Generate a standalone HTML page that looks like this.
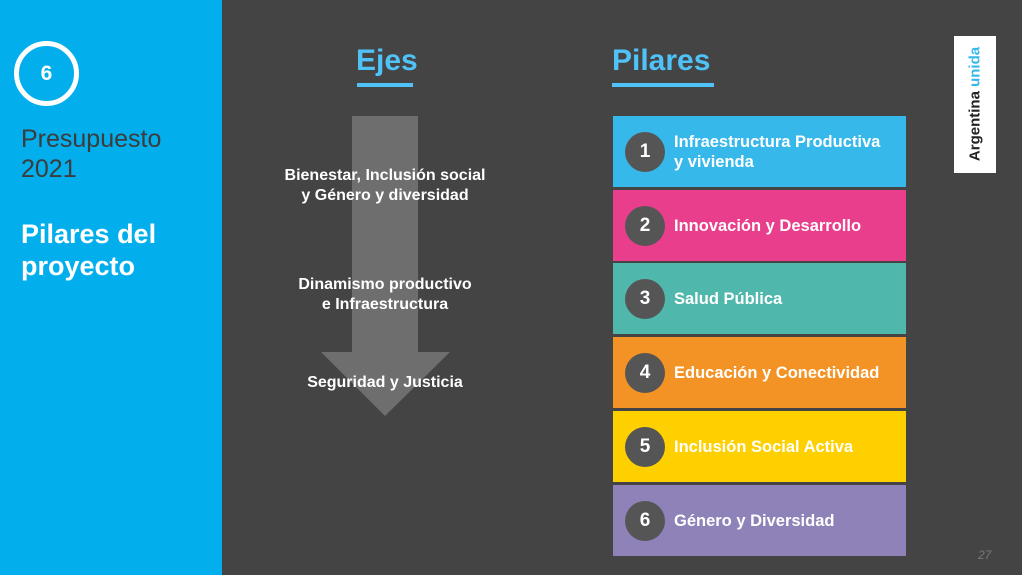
<!DOCTYPE html>
<html><head><style>
body{margin:0;width:1022px;height:575px;overflow:hidden;background:#444444;font-family:"Liberation Sans",sans-serif;position:relative}
.a{position:absolute}
.left{left:0;top:0;width:222px;height:575px;background:#03aeec}
.pill{position:absolute;left:613px;width:293px;height:71px;color:#fff;font-weight:bold;font-size:16.5px}
.pill .c{position:absolute;left:12px;top:16px;width:40px;height:40px;border-radius:50%;background:#555;color:#fff;font-size:19px;font-weight:bold;text-align:center;line-height:40px}
.pill .t{position:absolute;left:61px;top:0;height:71px;display:flex;align-items:center;line-height:20px}
.ax{color:#fff;font-weight:bold;font-size:16px;text-align:center;line-height:20px;width:240px;left:265px}
</style></head><body>
<div class="a left"></div>
<div class="a" style="left:14px;top:41px;width:55px;height:55px;border:5px solid #fff;border-radius:50%;color:#fff;font-weight:bold;font-size:21px;text-align:center;line-height:55px">6</div>
<div class="a" style="left:21px;top:124px;color:#3c3c3c;font-size:25px;line-height:30px">Presupuesto<br>2021</div>
<div class="a" style="left:21px;top:218px;color:#fff;font-weight:bold;font-size:27px;line-height:32px">Pilares del<br>proyecto</div>

<div class="a" style="left:356px;top:44px;color:#4fc3f7;font-weight:bold;font-size:30px">Ejes</div>
<div class="a" style="left:357px;top:83px;width:56px;height:4px;background:#4fc3f7"></div>
<div class="a" style="left:612px;top:44px;color:#4fc3f7;font-weight:bold;font-size:30px">Pilares</div>
<div class="a" style="left:612px;top:83px;width:102px;height:4px;background:#4fc3f7"></div>

<svg class="a" style="left:0;top:0" width="1022" height="575"><polygon points="352,116 418,116 418,352 450,352 385,416 321,352 352,352" fill="#6e6e6e"/></svg>
<div class="a ax" style="top:166px">Bienestar, Inclusión social<br>y Género y diversidad</div>
<div class="a ax" style="top:275px">Dinamismo productivo<br>e Infraestructura</div>
<div class="a ax" style="top:373px">Seguridad y Justicia</div>

<div class="pill" style="top:116px;background:#37b8ea"><div class="c">1</div><div class="t">Infraestructura Productiva<br>y vivienda</div></div>
<div class="pill" style="top:190px;background:#e83e8c"><div class="c">2</div><div class="t">Innovación y Desarrollo</div></div>
<div class="pill" style="top:263px;background:#50b7ad"><div class="c">3</div><div class="t">Salud Pública</div></div>
<div class="pill" style="top:337px;background:#f39325"><div class="c">4</div><div class="t">Educación y Conectividad</div></div>
<div class="pill" style="top:411px;background:#ffd000"><div class="c">5</div><div class="t">Inclusión Social Activa</div></div>
<div class="pill" style="top:485px;background:#8e82b8"><div class="c">6</div><div class="t">Género y Diversidad</div></div>

<div class="a" style="left:954px;top:36px;width:42px;height:137px;background:#fff"></div>
<div class="a" style="left:975px;top:104px;transform:translate(-50%,-50%) rotate(-90deg);white-space:nowrap;font-size:15px;font-weight:bold;color:#222">Argentina <span style="color:#37b8ea">unida</span></div>
<div class="a" style="left:978px;top:548px;color:#777;font-style:italic;font-size:12px">27</div>
</body></html>
